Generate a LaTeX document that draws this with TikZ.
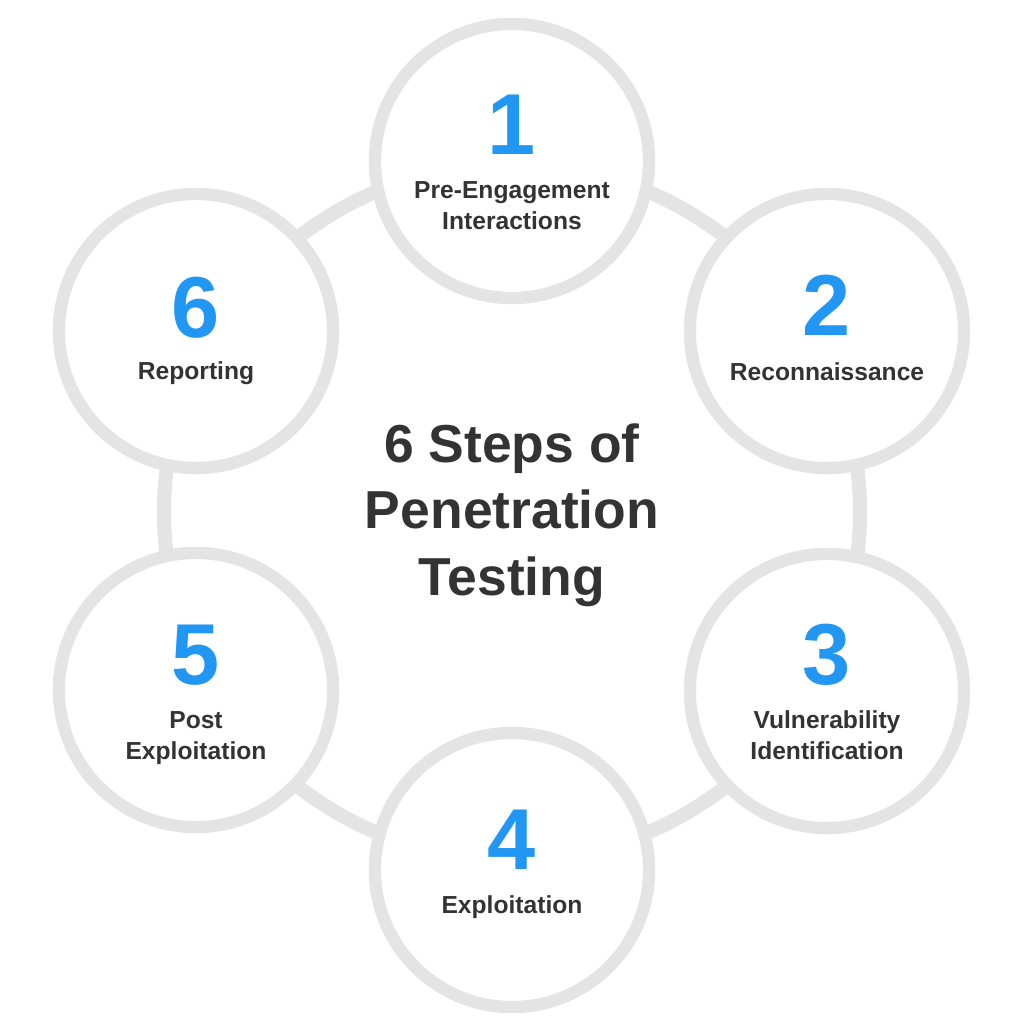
\documentclass[tikz,border=0pt]{standalone}
\usepackage{fontspec}
\setmainfont{Liberation Sans}
\usepackage{tikz}

\definecolor{ringgray}{HTML}{E4E4E4}
\definecolor{stepblue}{HTML}{2196F3}
\definecolor{textgray}{HTML}{333333}

\tikzset{
  ring/.style={draw=ringgray,line width=4pt},
  stepcircle/.style={circle,draw=ringgray,line width=3.5pt,fill=white,minimum size=2.74cm,inner sep=0},
  stepnum/.style={text=stepblue,font=\bfseries\fontsize{24.6}{26}\selectfont,inner sep=0,anchor=base},
  steplabel/.style={text=textgray,font=\bfseries\fontsize{7}{8.8}\selectfont,align=center,inner sep=0,anchor=base}
}

\begin{document}
\begin{tikzpicture}[x=0.01cm,y=-0.01cm]
    \useasboundingbox (0,0) rectangle (1024,1024);

    % ring behind the steps
    \draw[ring] (512,512) circle[radius=348];

    \node[stepcircle] (s1) at (512,161) {};
    \node[stepcircle] (s2) at (827,331) {};
    \node[stepcircle] (s3) at (827,691) {};
    \node[stepcircle] (s4) at (512,870) {};
    \node[stepcircle] (s5) at (196,690) {};
    \node[stepcircle] (s6) at (196,331) {};

    % base of a two-line label is its last line
    \node[stepnum] (n1) at (512,154) {1};
    \node[steplabel] (l1) at (512,229) {Pre-Engagement\\Interactions};

    \node[stepnum] (n2) at (827,335) {2};
    \node[steplabel] (l2) at (827,380) {Reconnaissance};

    \node[stepnum] (n3) at (827,684) {3};
    \node[steplabel] (l3) at (827,759) {Vulnerability\\Identification};

    \node[stepnum] (n4) at (512,869) {4};
    \node[steplabel] (l4) at (512,913) {Exploitation};

    \node[stepnum] (n5) at (196,684) {5};
    \node[steplabel] (l5) at (196,759) {Post\\Exploitation};

    \node[stepnum] (n6) at (196,337) {6};
    \node[steplabel] (l6) at (196,379) {Reporting};

    % title in the middle
    \node[text=textgray,font=\bfseries\fontsize{15.2}{18.8}\selectfont,align=center,inner sep=0,anchor=base] (title) at (512,595) {6 Steps of\\Penetration\\Testing};
\end{tikzpicture}
\end{document}
